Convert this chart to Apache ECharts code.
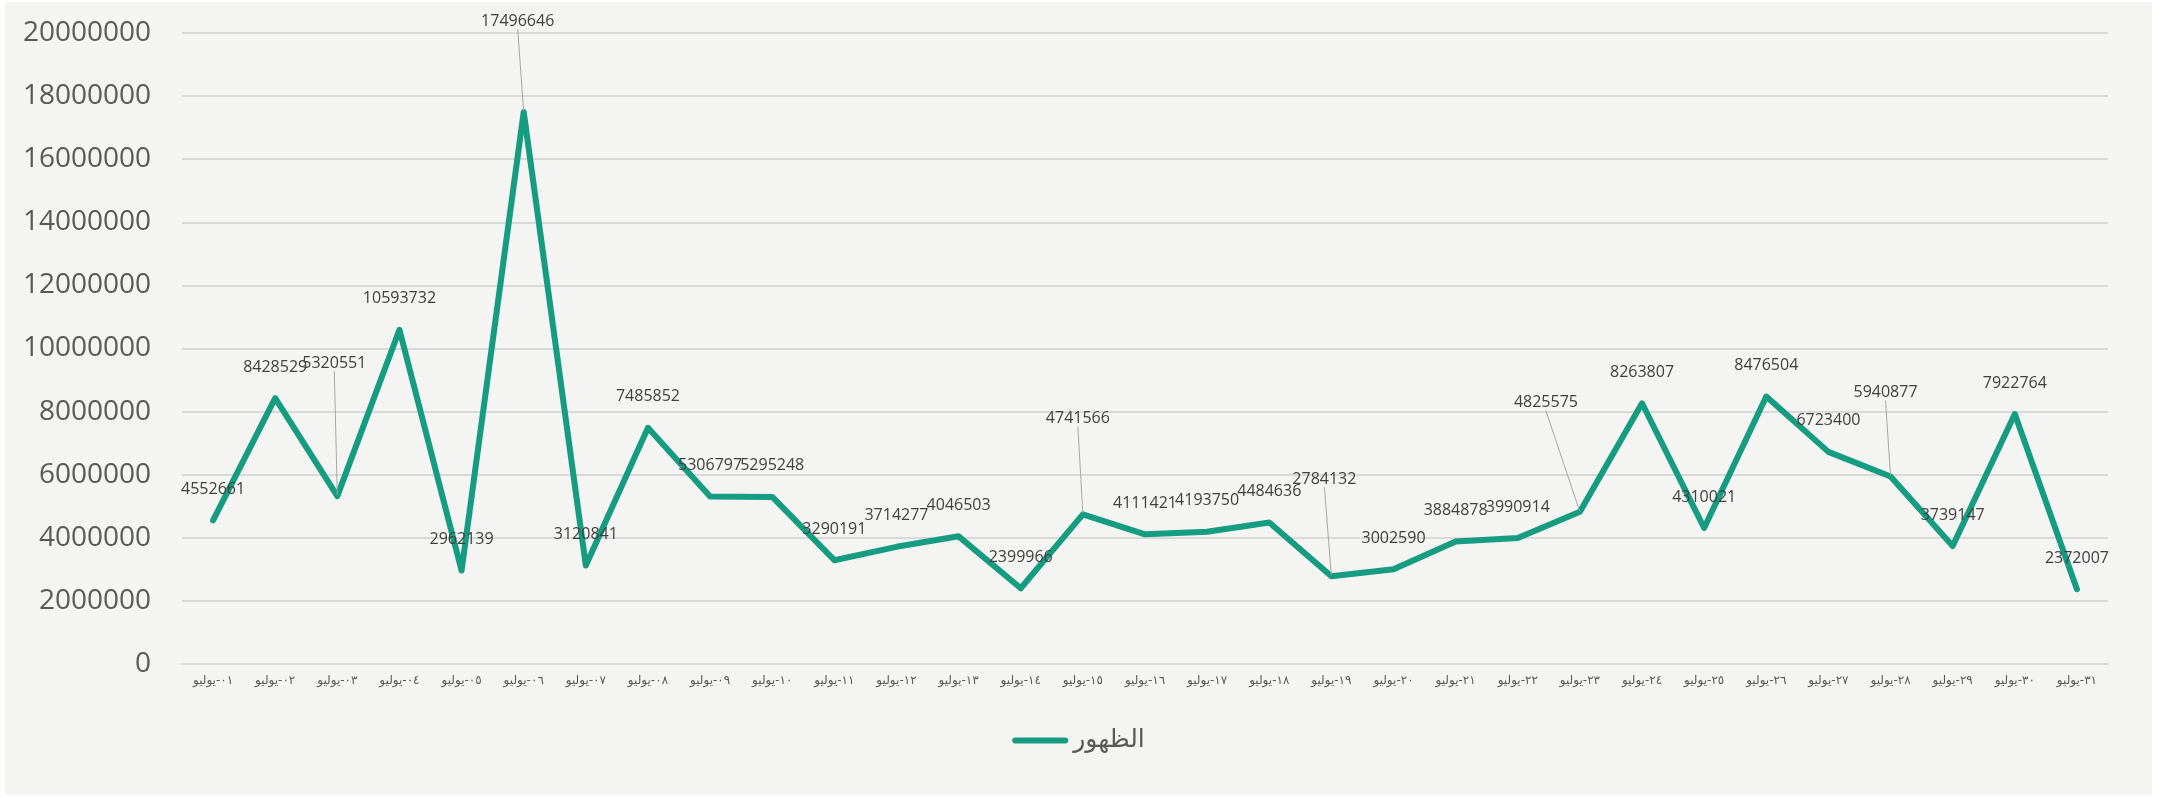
<!DOCTYPE html>
<html>
<head>
<meta charset="utf-8">
<title>الظهور - يوليو</title>
<script src="https://cdn.jsdelivr.net/npm/echarts@6/dist/echarts.min.js"></script>
<style>
html, body { margin: 0; padding: 0; background: #ffffff; }
#frame { position: absolute; left: 5px; top: 2px; width: 2147px; height: 793px; background: #f4f4f2; }
#main { position: absolute; left: 0; top: 0; width: 2157px; height: 797px; }
</style>
</head>
<body>
<div id="frame"></div>
<div id="main"></div>
<script>
// ايام شهر يوليو
var days = ['٠١-يوليو', '٠٢-يوليو', '٠٣-يوليو', '٠٤-يوليو', '٠٥-يوليو', '٠٦-يوليو', '٠٧-يوليو', '٠٨-يوليو',
    '٠٩-يوليو', '١٠-يوليو', '١١-يوليو', '١٢-يوليو', '١٣-يوليو', '١٤-يوليو', '١٥-يوليو', '١٦-يوليو',
    '١٧-يوليو', '١٨-يوليو', '١٩-يوليو', '٢٠-يوليو', '٢١-يوليو', '٢٢-يوليو', '٢٣-يوليو', '٢٤-يوليو',
    '٢٥-يوليو', '٢٦-يوليو', '٢٧-يوليو', '٢٨-يوليو', '٢٩-يوليو', '٣٠-يوليو', '٣١-يوليو'];

// الظهور
var values = [4552661, 8428529, 5320551, 10593732, 2962139, 17496646, 3120841, 7485852,
    5306797, 5295248, 3290191, 3714277, 4046503, 2399966, 4741566, 4111421,
    4193750, 4484636, 2784132, 3002590, 3884878, 3990914, 4825575, 8263807,
    4310021, 8476504, 6723400, 5940877, 3739147, 7922764, 2372007];

var seriesName = 'الظهور';
var yMin = 0;
var yMax = 20000000;
var yStep = 2000000;

var lineColor = '#169c81';

// labels that sit away from their point, with a leader line (dx, dy in px)
var labelNudge = {
    2: [-3, -102],
    5: [-6, -60],
    14: [-5, -65],
    18: [-7, -66],
    22: [-34, -78],
    27: [-5, -53]
};

var chart = echarts.init(document.getElementById('main'));
chart.setOption({
    animation: false,
    backgroundColor: 'transparent',
    grid: {
        left: 182,
        right: 49,
        top: 33,
        bottom: 133,
        containLabel: false
    },
    legend: {
        data: [seriesName],
        left: 'center',
        top: 723,
        icon: 'path://M3,0L53,0A3,3,0,0,1,53,6L3,6A3,3,0,0,1,3,0Z',
        itemWidth: 56,
        itemHeight: 6,
        textStyle: {
            fontSize: 25,
            color: '#595959',
            fontFamily: "'DejaVu Sans', sans-serif"
        }
    },
    xAxis: {
        type: 'category',
        data: days,
        boundaryGap: true,
        axisTick: { show: false },
        axisLine: { lineStyle: { color: '#d9d9d9', width: 2 } },
        axisLabel: {
            interval: 0,
            margin: 11,
            fontSize: 12,
            color: '#595959',
            fontFamily: "'DejaVu Sans', sans-serif"
        }
    },
    yAxis: {
        type: 'value',
        min: yMin,
        max: yMax,
        interval: yStep,
        axisLine: { show: false },
        axisTick: { show: false },
        splitLine: { lineStyle: { color: '#d9d9d9', width: 2 } },
        axisLabel: {
            margin: 31,
            fontSize: 28,
            color: '#595959',
            fontFamily: "'Open Sans', sans-serif",
            formatter: function (v) { return String(v); }
        }
    },
    series: [{
        name: seriesName,
        type: 'line',
        data: values.map(function (v, i) {
            var item = { value: v };
            if (labelNudge[i]) {
                item.labelLine = { show: true };
            }
            return item;
        }),
        symbol: 'circle',
        symbolSize: 2,
        showSymbol: true,
        itemStyle: { color: lineColor },
        lineStyle: { color: lineColor, width: 6, cap: 'round', join: 'round' },
        label: {
            show: true,
            position: 'top',
            distance: 22,
            fontSize: 16,
            color: '#404040',
            fontFamily: "'Open Sans', sans-serif"
        },
        labelLine: {
            show: false,
            length2: 0,
            lineStyle: { color: '#a6a6a6', width: 1 }
        },
        labelLayout: function (p) {
            var n = labelNudge[p.dataIndex];
            if (n) {
                return { dx: n[0], dy: n[1] };
            }
            return {};
        }
    }]
});
</script>
</body>
</html>
